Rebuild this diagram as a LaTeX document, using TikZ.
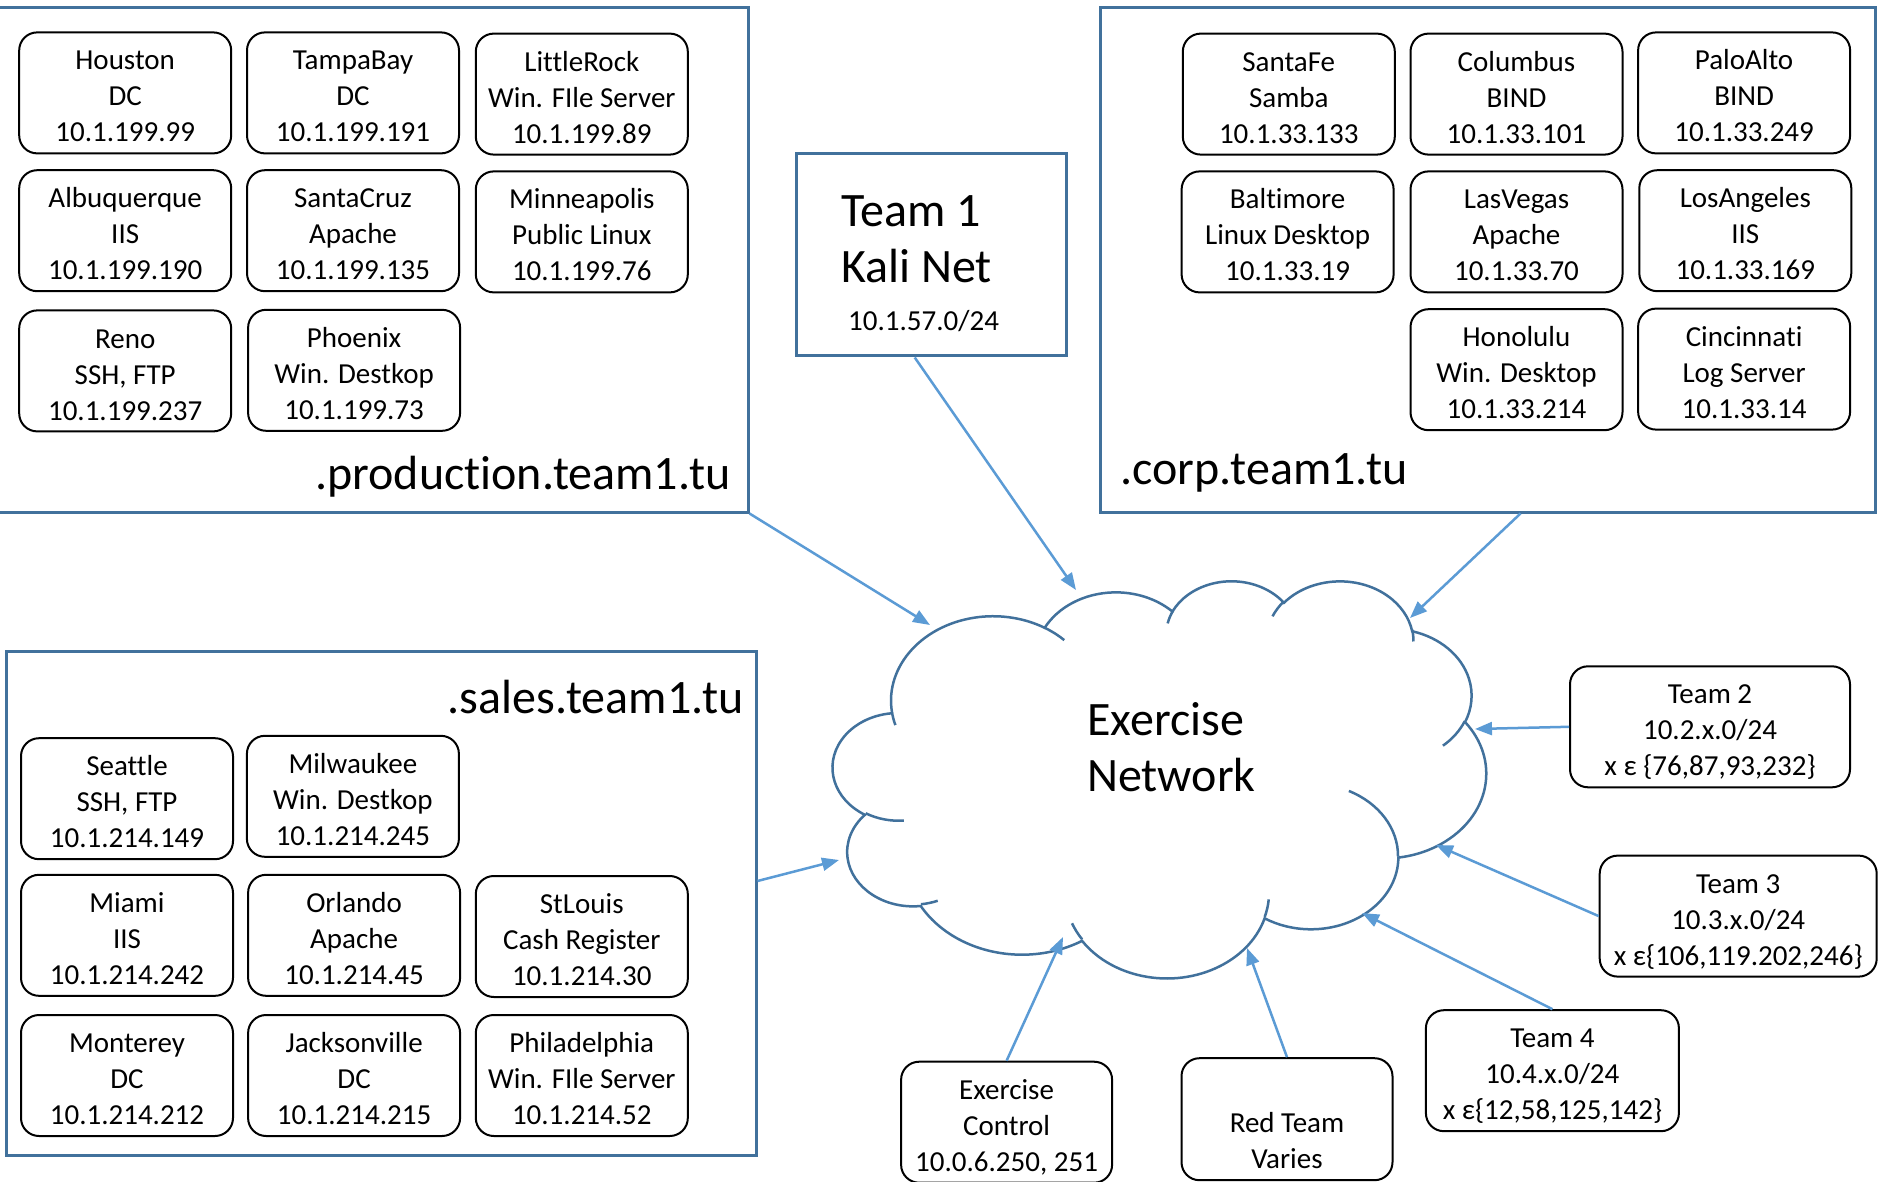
\documentclass[tikz,border=0pt]{standalone}
\usepackage{fontspec}
\setmainfont{Carlito}[Ligatures=CommonOff]
\usetikzlibrary{arrows.meta,calc}
\definecolor{frameblue}{RGB}{65,113,156}
\definecolor{arrowblue}{RGB}{91,155,213}
\newcommand\mkarc[5]{%
  \pgfmathsetmacro\tmpA{atan2((#2)*sin(#4),(#3)*cos(#4))}%
  \pgfmathsetmacro\tmpB{atan2((#2)*sin((#4)+(#5)),(#3)*cos((#4)+(#5)))}%
  \pgfmathsetmacro\tmpD{\tmpB-(\tmpA)}%
  \pgfmathsetmacro\tmpD{\tmpD-360*round((\tmpD-(#5))/360)}%
  \expandafter\xdef\csname #1S\endcsname{\tmpA}%
  \expandafter\xdef\csname #1D\endcsname{\tmpD}%
}
\begin{document}
\begin{tikzpicture}[x=1pt,y=-1pt,
  frame/.style={draw=frameblue,line width=3pt,inner sep=0pt},
  srv/.style={draw=black,line width=2pt,rounded corners=18pt,minimum width=212pt,minimum height=121pt,inner sep=0pt,align=center,font=\fontsize{29}{36}\selectfont,
    text height=101.2pt,text depth=3pt},
  plain/.style={inner sep=0pt,align=center,font=\fontsize{29}{36}\selectfont},
  arr/.style={draw=arrowblue,line width=2.5pt,-{Triangle[length=17pt,width=13pt]}},
  big/.style={inner sep=0pt,font=\fontsize{48}{56}\selectfont},
  cloudline/.style={draw=frameblue,line width=2.5pt}]
\useasboundingbox (0,0) rectangle (1879,1182);
\fill[white] (0,0) rectangle (1879,1182);

% ---- cloud (Office cloud geometry) ----
\mkarc{qa}{675.3}{919.0}{-190.48748}{123.78053}
\mkarc{qb}{533.3}{726.7}{-144.10238}{89.94523}
\mkarc{qc}{436.5}{594.5}{-145.80792}{99.72302}
\mkarc{qd}{485.7}{659.5}{-130.98607}{117.24173}
\mkarc{qe}{533.3}{727.3}{-78.70888}{109.02692}
\mkarc{qf}{677.5}{922.0}{-46.26725}{130.269}
\mkarc{qg}{578.5}{786.7}{0.62502}{114.03333}
\mkarc{qh}{675.2}{921.5}{22.4516}{115.17255}
\mkarc{qi}{772.0}{1054.3}{66.24263}{75.71102}
\mkarc{qj}{436.0}{591.8}{-274.94208}{146.73557}
\mkarc{qk}{434.5}{594.5}{-246.8285}{152.51885}
\mkarc{ra}{434.5}{594.5}{86.742}{26.4295}
\mkarc{rb}{436.0}{591.8}{73.61047}{11.44747}
\mkarc{rc}{675.2}{921.5}{137.62415}{14.0811}
\mkarc{rd}{675.2}{921.5}{6.45327}{15.99835}
\mkarc{re}{578.5}{786.7}{-70.29235}{70.91737}
\mkarc{rf}{533.3}{727.3}{30.31803}{27.7515}
\mkarc{rg}{485.7}{659.5}{-13.74433}{14.857}
\mkarc{rh}{485.7}{659.5}{-149.18145}{18.19588}
\mkarc{ri}{436.5}{594.5}{-163.49427}{17.691}
\mkarc{rj}{675.3}{919.0}{-66.70695}{12.31935}
\mkarc{rk}{675.3}{919.0}{157.65435}{11.85817}
\begin{scope}[shift={(833,580)},x=0.151157pt,y=-0.091898pt]
\draw[cloudline,fill=white] (390,1437)
  arc[start angle=\qaS,delta angle=\qaD,x radius=675.3,y radius=919.0]
  arc[start angle=\qbS,delta angle=\qbD,x radius=533.3,y radius=726.7]
  arc[start angle=\qcS,delta angle=\qcD,x radius=436.5,y radius=594.5]
  arc[start angle=\qdS,delta angle=\qdD,x radius=485.7,y radius=659.5]
  arc[start angle=\qeS,delta angle=\qeD,x radius=533.3,y radius=727.3]
  arc[start angle=\qfS,delta angle=\qfD,x radius=677.5,y radius=922.0]
  arc[start angle=\qgS,delta angle=\qgD,x radius=578.5,y radius=786.7]
  arc[start angle=\qhS,delta angle=\qhD,x radius=675.2,y radius=921.5]
  arc[start angle=\qiS,delta angle=\qiD,x radius=772.0,y radius=1054.3]
  arc[start angle=\qjS,delta angle=\qjD,x radius=436.0,y radius=591.8]
  arc[start angle=\qkS,delta angle=\qkD,x radius=434.5,y radius=594.5]
  -- cycle;
\draw[cloudline]
  (469.3,2617.7) arc[start angle=\raS,delta angle=\raD,x radius=434.5,y radius=594.5]
  (692.8,3489.9) arc[start angle=\rbS,delta angle=\rbD,x radius=436.0,y radius=591.8]
  (1647.8,3909.0) arc[start angle=\rcS,delta angle=\rcD,x radius=675.2,y radius=921.5]
  (2882.7,3475.1) arc[start angle=\rdS,delta angle=\rdD,x radius=675.2,y radius=921.5]
  (3412.9,2295.4) arc[start angle=\reS,delta angle=\reD,x radius=578.5,y radius=786.7]
  (4179.8,1535.4) arc[start angle=\rfS,delta angle=\rfD,x radius=533.3,y radius=727.3]
  (3832.4,542.6) arc[start angle=\rgS,delta angle=\rgD,x radius=485.7,y radius=659.5]
  (2907.8,395.2) arc[start angle=\rhS,delta angle=\rhD,x radius=485.7,y radius=659.5]
  (2214.1,472.0) arc[start angle=\riS,delta angle=\riD,x radius=436.5,y radius=594.5]
  (1400.0,519.2) arc[start angle=\rjS,delta angle=\rjD,x radius=675.3,y radius=919.0]
  (412.7,1578.9) arc[start angle=\rkS,delta angle=\rkD,x radius=675.3,y radius=919.0];
\end{scope}
\node[big,anchor=west,align=flush left] (nettext) at (1087,747) {Exercise\\Network};

% ---- containers ----
\node[frame,minimum width=753pt,minimum height=504pt] (prod) at (371.5,260) {};
\node[frame,minimum width=775pt,minimum height=504pt] (corp) at (1487.5,260) {};
\node[frame,minimum width=750pt,minimum height=504pt] (sales) at (381,903) {};
\node[frame,minimum width=269.5pt,minimum height=202.5pt] (kali) at (931.7,254.7) {};
\node[big,anchor=west,align=flush left] (kalitext) at (841,263.2)
  {Team 1\\Kali Net\\[-8pt]{\fontsize{29}{36}\selectfont\hspace*{7pt}10.1.57.0/24}};

\node[big,anchor=base east] (prodlbl) at (731,489) {.production.team1.tu};
\node[big,anchor=base west] (corplbl) at (1120,484) {.corp.team1.tu};
\node[big,anchor=base east] (saleslbl) at (744,713) {.sales.team1.tu};

% ---- production ----
\node[srv] (houston) at (125.2,92.9) {Houston\\DC\\10.1.199.99};
\node[srv] (tampa) at (353,92.9) {TampaBay\\DC\\10.1.199.191};
\node[srv] (little) at (581.8,94.1) {LittleRock\\Win. FIle Server\\10.1.199.89};
\node[srv] (albu) at (125.2,230.7) {Albuquerque\\IIS\\10.1.199.190};
\node[srv] (scruz) at (353,230.7) {SantaCruz\\Apache\\10.1.199.135};
\node[srv] (minne) at (581.8,231.9) {Minneapolis\\Public Linux\\10.1.199.76};
\node[srv] (reno) at (125.2,370.9) {Reno\\SSH, FTP\\10.1.199.237};
\node[srv] (phoenix) at (354.1,370.3) {Phoenix\\Win. Destkop\\10.1.199.73};

% ---- corp ----
\node[srv] (santafe) at (1288.8,94.1) {SantaFe\\Samba\\10.1.33.133};
\node[srv] (columbus) at (1516.5,94.1) {Columbus\\BIND\\10.1.33.101};
\node[srv] (paloalto) at (1744.1,92.9) {PaloAlto\\BIND\\10.1.33.249};
\node[srv] (baltimore) at (1287.6,231.9) {Baltimore\\Linux Desktop\\10.1.33.19};
\node[srv] (lasvegas) at (1516.5,231.9) {LasVegas\\Apache\\10.1.33.70};
\node[srv] (losangeles) at (1745.3,230.7) {LosAngeles\\IIS\\10.1.33.169};
\node[srv] (honolulu) at (1516.5,369.7) {Honolulu\\Win. Desktop\\10.1.33.214};
\node[srv] (cincinnati) at (1744.1,369.1) {Cincinnati\\Log Server\\10.1.33.14};

% ---- sales ----
\node[srv] (seattle) at (127,798.7) {Seattle\\SSH, FTP\\10.1.214.149};
\node[srv] (milwaukee) at (352.9,796.3) {Milwaukee\\Win. Destkop\\10.1.214.245};
\node[srv] (miami) at (127,935.3) {Miami\\IIS\\10.1.214.242};
\node[srv] (orlando) at (354.1,935.3) {Orlando\\Apache\\10.1.214.45};
\node[srv] (stlouis) at (581.8,936.5) {StLouis\\Cash Register\\10.1.214.30};
\node[srv] (monterey) at (127,1075.5) {Monterey\\DC\\10.1.214.212};
\node[srv] (jackson) at (354.1,1075.5) {Jacksonville\\DC\\10.1.214.215};
\node[srv] (phila) at (581.8,1075.5) {Philadelphia\\Win. FIle Server\\10.1.214.52};

% ---- teams ----
\node[srv,minimum width=280pt] (team2) at (1710,726.8) {Team 2\\10.2.x.0/24\\x ε \{76,87,93,232\}};
\node[srv,minimum width=277pt] (team3) at (1738.2,916.1) {Team 3\\10.3.x.0/24\\x ε\{106,119.202,246\}};
\node[srv,minimum width=253pt] (team4) at (1552.4,1070.7) {Team 4\\10.4.x.0/24\\x ε\{12,58,125,142\}};
\node[srv,minimum width=211pt,minimum height=121pt] (ctrl) at (1006.6,1122.2) {Exercise\\Control\\10.0.6.250, 251};
\node[srv,minimum width=211pt,minimum height=122pt,text height=0pt,text depth=0pt] (red) at (1287,1119.2) {};
\node[plain] (redtext) at (1287,1140.5) {Red Team\\Varies};

% ---- arrow targets on the cloud ----
\coordinate (cProd) at (930,625);
\coordinate (cKali) at (1076,590);
\coordinate (cCorp) at (1410,618);
\coordinate (cSales) at (839,860);
\coordinate (cT2) at (1475,729);
\coordinate (cT3) at (1436,845);
\coordinate (cT4) at (1362,913);
\coordinate (cCtrl) at (1063,937);
\coordinate (cRed) at (1247,948);

\draw[arr] (prod.south east) -- (cProd);
\draw[arr] ($(kali.south)+(-17,0)$) -- (cKali);
\draw[arr] ($(corp.south)+(33,0)$) -- (cCorp);
\draw[arr] ($(sales.east)+(0,-22)$) -- (cSales);
\draw[arr] (team2.west) -- (cT2);
\draw[arr] (team3.west) -- (cT3);
\draw[arr] (team4.north) -- (cT4);
\draw[arr] (ctrl.north) -- (cCtrl);
\draw[arr] (red.north) -- (cRed);
\end{tikzpicture}
\end{document}
